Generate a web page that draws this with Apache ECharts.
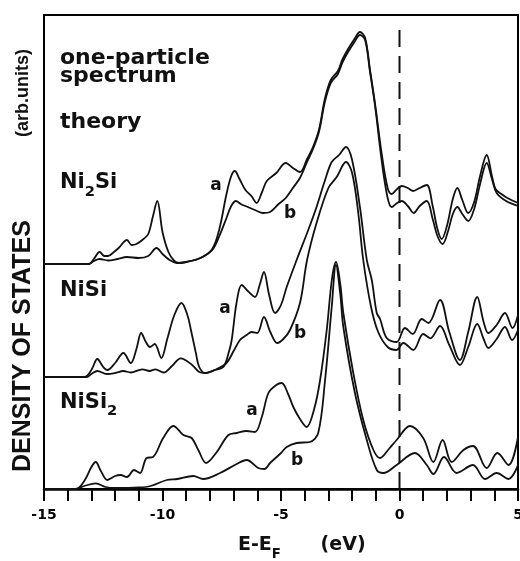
<!DOCTYPE html>
<html>
<head>
<meta charset="UTF-8">
<title>DOS Ni silicides</title>
<script src="https://cdn.jsdelivr.net/npm/echarts@6/dist/echarts.min.js"></script>
<style>
  html, body { margin: 0; padding: 0; background: #fff; overflow: hidden; }
  #chart { width: 520px; height: 561px; }
</style>
</head>
<body>
<div id="chart"></div>
<script>
// energy axis (eV) and labelled ticks
var energyTicks = [-15, -10, -5, 0, 5];

// vertical offsets of the three stacked pairs (arb. units)
var offsetNi2Si = 225;
var offsetNiSi = 112;
var offsetNiSi2 = 0;

// Ni2Si
var ni2siA = [[-15,0],[-13.1,0],[-12.9,5],[-12.65,12],[-12.45,8],[-12.3,8],[-12.05,12],[-11.85,16],[-11.5,24],[-11.3,19],[-11.1,20],[-10.8,25],[-10.6,30],[-10.4,48],[-10.22,63],[-10.0,32],[-9.75,12],[-9.5,3],[-9.3,1],[-9.0,2],[-8.4,6],[-7.9,15],[-7.6,35],[-7.3,70],[-7.1,88],[-6.95,93],[-6.75,85],[-6.5,74],[-6.25,68],[-6.03,61],[-5.8,72],[-5.6,83],[-5.2,91],[-4.8,101],[-4.5,96],[-4.2,92],[-3.9,105],[-3.65,117],[-3.4,134],[-3.15,165],[-2.9,184],[-2.6,193],[-2.4,205],[-2.17,215],[-1.9,225],[-1.67,232],[-1.45,226],[-1.25,195],[-1.03,160],[-0.75,110],[-0.5,76],[-0.33,70],[-0.1,75],[0.1,78],[0.35,76],[0.58,73],[0.85,76],[1.15,79],[1.4,58],[1.6,35],[1.78,25],[2.0,38],[2.25,65],[2.44,76],[2.65,64],[2.9,51],[3.15,62],[3.4,88],[3.68,109],[3.9,88],[4.05,75],[4.3,70],[4.55,66],[5,61]];
var ni2siB = [[-15,0],[-13.1,0],[-12.9,3],[-12.65,5],[-12.3,3.5],[-11.9,5],[-11.5,7],[-11.0,6],[-10.6,8],[-10.25,16],[-10.0,10],[-9.7,4],[-9.4,1],[-9.0,2],[-8.4,6],[-7.9,14],[-7.6,28],[-7.3,46],[-7.1,58],[-6.9,63],[-6.7,60],[-6.4,57],[-6.1,54],[-5.75,51],[-5.46,52],[-5.1,60],[-4.8,66],[-4.5,76],[-4.2,86],[-3.9,102],[-3.65,115],[-3.4,132],[-3.15,162],[-2.9,181],[-2.6,190],[-2.4,202],[-2.17,212],[-1.9,222],[-1.67,229],[-1.45,224],[-1.25,193],[-1.03,158],[-0.75,103],[-0.5,66],[-0.33,57],[-0.1,61],[0.1,63],[0.35,58],[0.6,51],[0.85,58],[1.15,63],[1.4,45],[1.6,28],[1.82,20],[2.05,33],[2.25,50],[2.44,57],[2.65,50],[2.9,43],[3.15,55],[3.4,80],[3.68,101],[3.9,85],[4.1,71],[4.5,63],[5,58]];

// NiSi
var nisiA = [[-15,0],[-13.3,0],[-13.0,7],[-12.75,18],[-12.5,10],[-12.33,7],[-12.0,14],[-11.65,24],[-11.34,14],[-11.1,28],[-10.9,44],[-10.7,35],[-10.53,30],[-10.33,33],[-10.05,19],[-9.8,38],[-9.5,62],[-9.2,74],[-8.95,62],[-8.8,47],[-8.6,25],[-8.45,10],[-8.2,4],[-7.8,7],[-7.43,10],[-7.2,25],[-7.08,37],[-6.87,75],[-6.66,92],[-6.4,86],[-6.1,80],[-5.9,92],[-5.72,105],[-5.5,82],[-5.25,64],[-5.0,72],[-4.76,90],[-4.34,117],[-3.85,147],[-3.5,170],[-3.14,197],[-2.86,215],[-2.55,222],[-2.26,230],[-2.0,217],[-1.67,170],[-1.38,117],[-1.17,97],[-0.96,64],[-0.82,58],[-0.54,39],[-0.12,35],[0.23,49],[0.56,43],[0.94,58],[1.22,54],[1.71,77],[2.1,45],[2.55,17],[2.9,45],[3.28,80],[3.55,55],[3.75,44],[4.1,52],[4.45,64],[4.77,49],[5,62]];
var nisiB = [[-15,0],[-13.2,0],[-13.0,3],[-12.75,6],[-12.35,3],[-12.0,4],[-11.65,6],[-11.34,4.5],[-10.85,7.7],[-10.55,6],[-10.3,7.7],[-9.95,4.5],[-9.6,11],[-9.23,18.7],[-8.75,12],[-8.45,5],[-8.2,4],[-7.8,7],[-7.3,14],[-7.0,26],[-6.73,37],[-6.45,42],[-6.24,45],[-6.0,44],[-5.72,60],[-5.45,45],[-5.16,34],[-4.9,38],[-4.62,47],[-4.2,74],[-3.9,117],[-3.5,154],[-3.0,189],[-2.65,200],[-2.26,215],[-2.0,204],[-1.74,164],[-1.53,117],[-1.2,70],[-0.9,45],[-0.5,30],[-0.12,27],[0.16,34],[0.58,27],[1.0,43],[1.3,38.7],[1.71,51],[2.1,32],[2.55,12],[2.9,30],[3.28,53],[3.55,38],[3.75,29],[4.1,38],[4.45,50],[4.75,37],[5,47]];

// NiSi2
var nisi2A = [[-15,0],[-13.65,0],[-13.3,8],[-13.0,22],[-12.82,27],[-12.6,18],[-12.33,9],[-12.0,13],[-11.77,14],[-11.5,12],[-11.2,19],[-10.95,16],[-10.67,31],[-10.4,32],[-9.97,51],[-9.54,63],[-9.12,54],[-8.77,51],[-8.49,39],[-8.16,26],[-7.71,37],[-7.22,54],[-6.87,56],[-6.45,58],[-6.1,57],[-5.81,72],[-5.53,96],[-5.2,104],[-4.97,106],[-4.7,95],[-4.48,82],[-4.2,70],[-3.92,62],[-3.6,80],[-3.35,109],[-3.07,159],[-2.85,210],[-2.68,227],[-2.5,205],[-2.37,176],[-1.95,116],[-1.53,69],[-1.1,39],[-0.82,31],[-0.45,40],[-0.12,49],[0.44,63],[1.0,51],[1.43,27],[1.82,49],[2.2,27],[2.7,39],[3.1,43],[3.68,21],[4.13,36],[4.6,24],[5,52]];
var nisi2B = [[-15,0],[-13.7,0],[-13.3,3],[-12.82,5.7],[-12.4,2],[-12.0,1],[-11.0,1.5],[-10.5,3],[-9.82,9],[-9.38,10],[-8.7,13],[-8.28,10],[-7.57,16],[-6.87,25],[-6.45,29],[-5.96,21],[-5.7,20],[-5.46,26],[-5.0,36],[-4.76,42],[-4.34,46],[-3.78,47],[-3.43,56],[-3.14,109],[-2.86,182],[-2.68,224],[-2.5,195],[-2.37,162],[-1.88,96],[-1.38,49],[-0.96,19],[-0.68,16],[-0.12,24],[0.65,36],[1.15,24],[1.43,15],[1.88,32],[2.41,16],[3.1,24],[3.61,10],[4.1,16],[4.6,10],[5,24]];

// Fermi level marker
var fermiLine = [[0, 0], [0, 467]];

function shift(data, off) {
  return data.map(function (p) { return [p[0], p[1] + off]; });
}

function curve(data, off) {
  return {
    type: 'line',
    data: shift(data, off),
    showSymbol: false,
    smooth: 0.35,
    silent: true,
    lineStyle: { color: '#111', width: 1.8 }
  };
}

var chart = echarts.init(document.getElementById('chart'));

var boldFont = 'DejaVu Sans';
function label(text, x, y, size, align) {
  return {
    type: 'text', x: x, y: y, silent: true,
    style: {
      text: text, fill: '#111', fontFamily: boldFont, fontWeight: 'bold',
      fontSize: size, textAlign: align || 'left', textVerticalAlign: 'middle'
    }
  };
}
function subLabel(text, x, y, size, drop) {
  return {
    type: 'text', x: x, y: y, silent: true,
    style: {
      text: text, textAlign: 'left', textVerticalAlign: 'middle',
      rich: {
        n: { fontFamily: boldFont, fontWeight: 'bold', fontSize: size, fill: '#111' },
        s: { fontFamily: boldFont, fontWeight: 'bold', fontSize: size * 0.7, fill: '#111', padding: [drop, 0, 0, 0] }
      }
    }
  };
}

chart.setOption({
  animation: false,
  backgroundColor: '#fff',
  grid: {
    left: 44, right: 2, top: 15, bottom: 72, show: true,
    borderColor: '#000', borderWidth: 2, outerBoundsMode: 'none'
  },
  xAxis: {
    type: 'value', min: -15, max: 5, interval: 1,
    axisLine: { lineStyle: { color: '#000', width: 2.5 } },
    axisTick: { length: 12, lineStyle: { color: '#000', width: 2 } },
    axisLabel: {
      margin: 19, color: '#000', fontSize: 14, fontWeight: 'bold', fontFamily: boldFont,
      formatter: function (v) { return energyTicks.indexOf(v) >= 0 ? String(v) : ''; }
    },
    splitLine: { show: false }
  },
  yAxis: {
    type: 'value', min: 0, max: 474,
    axisLine: { show: true, onZero: false, lineStyle: { color: '#000', width: 2 } },
    axisTick: { show: false }, axisLabel: { show: false }, splitLine: { show: false }
  },
  series: [
    curve(ni2siA, offsetNi2Si), curve(ni2siB, offsetNi2Si),
    curve(nisiA, offsetNiSi), curve(nisiB, offsetNiSi),
    curve(nisi2A, offsetNiSi2), curve(nisi2B, offsetNiSi2),
    {
      type: 'line', data: fermiLine, showSymbol: false, silent: true,
      lineStyle: { color: '#111', width: 2, type: [17, 9] }
    }
  ],
  graphic: [
    label('one-particle', 60, 58, 22),
    label('spectrum', 60, 76, 22),
    label('theory', 60, 122, 22),
    subLabel('{n|Ni}{s|2}{n|Si}', 60, 183, 21, 18),
    subLabel('{n|NiSi}', 60, 291, 21, 0),
    subLabel('{n|NiSi}{s|2}', 60, 403, 21, 16),
    label('a', 216, 186, 17, 'center'),
    label('b', 290, 214, 17, 'center'),
    label('a', 225, 309, 17, 'center'),
    label('b', 300, 334, 17, 'center'),
    label('a', 252, 411, 17, 'center'),
    label('b', 297, 461, 17, 'center'),
    subLabel('{n|E-E}{s|F}{n|      (eV)}', 238, 545, 19, 20),
    {
      type: 'text', x: 23, y: 346, rotation: Math.PI / 2, silent: true,
      style: { text: 'DENSITY OF STATES', fill: '#111', fontFamily: 'Liberation Sans', fontWeight: 'bold',
        fontSize: 25, textAlign: 'center', textVerticalAlign: 'middle' }
    },
    {
      type: 'text', x: 23, y: 93, rotation: Math.PI / 2, silent: true,
      style: { text: '(arb.units)', fill: '#111', fontFamily: 'Liberation Sans', fontWeight: 'bold',
        fontSize: 18, textAlign: 'center', textVerticalAlign: 'middle' }
    }
  ]
});
</script>
</body>
</html>
